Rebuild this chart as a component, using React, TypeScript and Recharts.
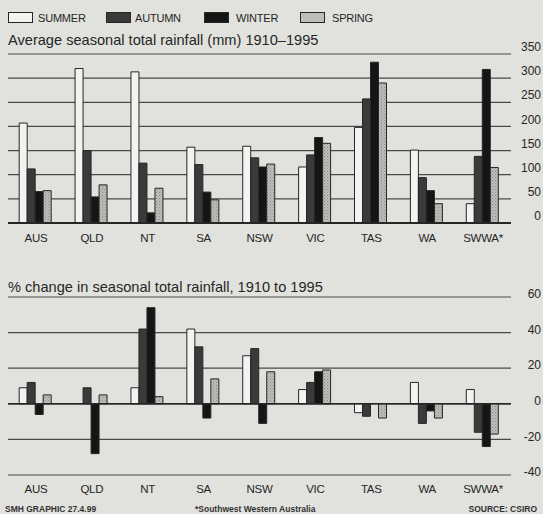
import React from 'react';
import { BarChart, Bar, XAxis, YAxis, CartesianGrid, ReferenceLine } from 'recharts';

const categories = ['AUS', 'QLD', 'NT', 'SA', 'NSW', 'VIC', 'TAS', 'WA', 'SWWA*'];
const seasons = ['SUMMER', 'AUTUMN', 'WINTER', 'SPRING'];

// Average seasonal total rainfall (mm) 1910-1995
const summerMm = [207, 320, 313, 157, 159, 116, 198, 151, 40];
const autumnMm = [112, 150, 124, 121, 135, 141, 257, 94, 138];
const winterMm = [65, 54, 21, 64, 116, 177, 333, 67, 318];
const springMm = [67, 79, 72, 48, 122, 165, 290, 40, 115];

// % change in seasonal total rainfall, 1910 to 1995
const summerPct = [9, 0, 9, 42, 27, 8, -5, 12, 8];
const autumnPct = [12, 9, 42, 32, 31, 12, -7, -11, -16];
const winterPct = [-6, -28, 54, -8, -11, 18, 0, -4, -24];
const springPct = [5, 5, 4, 14, 18, 19, -8, -8, -17];

const mmTicks = [0, 50, 100, 150, 200, 250, 300, 350];
const pctTicks = [-40, -20, 0, 20, 40, 60];

const mmData = categories.map((c, i) => ({
  cat: c,
  summer: summerMm[i],
  autumn: autumnMm[i],
  winter: winterMm[i],
  spring: springMm[i],
}));
const pctData = categories.map((c, i) => ({
  cat: c,
  summer: summerPct[i],
  autumn: autumnPct[i],
  winter: winterPct[i],
  spring: springPct[i],
}));

const BG = '#e1e1dd';
const INK = '#262626';
const FONT = "'Liberation Sans', Arial, sans-serif";
const fills = ['#f3f3f1', '#3a3a3a', '#151515', 'url(#stipple)'];
const keys = ['summer', 'autumn', 'winter', 'spring'];

const RightTick = (dy: number) => (props: any) => {
  const { y, payload } = props;
  return (
    <text x={541} y={y + dy} textAnchor="end" dominantBaseline="middle" fontSize={12} fill={INK} fontFamily={FONT}>
      {payload.value}
    </text>
  );
};

const CatTick = (dy: number) => (props: any) => {
  const { x, y, payload } = props;
  return (
    <text x={x} y={y + dy} textAnchor="middle" fontSize={11.5} fill={INK} fontFamily={FONT} style={{ letterSpacing: -0.3 }}>
      {payload.value}
    </text>
  );
};

const Defs = () => (
  <defs>
    <pattern id="stipple" width="3" height="3" patternUnits="userSpaceOnUse">
      <rect width="3" height="3" fill="#bdbdb9" />
      <rect x="0" y="0" width="1" height="1" fill="#8a8a86" />
      <rect x="1.5" y="1.5" width="1" height="1" fill="#9a9a96" />
    </pattern>
  </defs>
);

const bars = () =>
  keys.map((k, i) => (
    <Bar key={k} dataKey={k} fill={fills[i]} stroke={INK} strokeWidth={1} isAnimationActive={false} />
  ));

export default function App() {
  const legendBoxes = [
    { x: 8, tx: 38 },
    { x: 106, tx: 135 },
    { x: 204, tx: 236 },
    { x: 300, tx: 332 },
  ];
  const footer = { position: 'absolute' as const, top: 505, fontSize: 8.5, fontWeight: 'bold' as const, lineHeight: '9px', whiteSpace: 'nowrap' as const, color: '#333' };
  return (
    <div style={{ position: 'absolute', left: 0, top: 0, width: 543, height: 514, background: BG, overflow: 'hidden', fontFamily: FONT, color: INK }}>
      {/* Legend */}
      {legendBoxes.map((b, i) => (
        <React.Fragment key={i}>
          <div
            style={{
              position: 'absolute',
              left: b.x,
              top: 12,
              width: 25,
              height: 11,
              boxSizing: 'border-box',
              border: `1px solid ${INK}`,
              background: i === 3 ? '#bdbdb9' : fills[i],
            }}
          />
          <div style={{ position: 'absolute', left: b.tx, top: 12, fontSize: 11, lineHeight: '12px', letterSpacing: -0.2 }}>
            {seasons[i]}
          </div>
        </React.Fragment>
      ))}

      <div style={{ position: 'absolute', left: 8, top: 32, fontSize: 14.6, lineHeight: '17px', whiteSpace: 'nowrap' }}>
        Average seasonal total rainfall (mm) 1910–1995
      </div>

      <div style={{ position: 'absolute', left: 0, top: 0 }}>
        <BarChart width={543} height={260} data={mmData} margin={{ top: 54, right: 0, bottom: 7, left: 8 }} barCategoryGap="20%" barGap={0}>
          <Defs />
          <CartesianGrid vertical={false} stroke="#4a4a4a" strokeWidth={1.2} />
          <XAxis dataKey="cat" axisLine={false} tickLine={false} height={30} tick={CatTick(11)} interval={0} />
          <YAxis orientation="right" width={32} domain={[0, 350]} ticks={mmTicks} axisLine={false} tickLine={false} tick={RightTick(-6)} />
          <ReferenceLine y={0} stroke={INK} strokeWidth={2} />
          {bars()}
        </BarChart>
      </div>

      <div style={{ position: 'absolute', left: 8, top: 279, fontSize: 14.6, lineHeight: '17px', whiteSpace: 'nowrap' }}>
        % change in seasonal total rainfall, 1910 to 1995
      </div>

      <div style={{ position: 'absolute', left: 0, top: 250 }}>
        <BarChart width={543} height={264} data={pctData} margin={{ top: 47, right: 0, bottom: 15, left: 8 }} barCategoryGap="20%" barGap={0}>
          <Defs />
          <CartesianGrid vertical={false} stroke="#4a4a4a" strokeWidth={1.2} />
          <XAxis dataKey="cat" axisLine={false} tickLine={false} height={24} tick={CatTick(10)} interval={0} />
          <YAxis orientation="right" width={32} domain={[-40, 60]} ticks={pctTicks} axisLine={false} tickLine={false} tick={RightTick(-2)} />
          <ReferenceLine y={0} stroke={INK} strokeWidth={1.6} />
          {bars()}
        </BarChart>
      </div>

      <div style={{ ...footer, left: 5 }}>SMH GRAPHIC 27.4.99</div>
      <div style={{ ...footer, left: 195 }}>*Southwest Western Australia</div>
      <div style={{ ...footer, right: 6 }}>SOURCE: CSIRO</div>
    </div>
  );
}
